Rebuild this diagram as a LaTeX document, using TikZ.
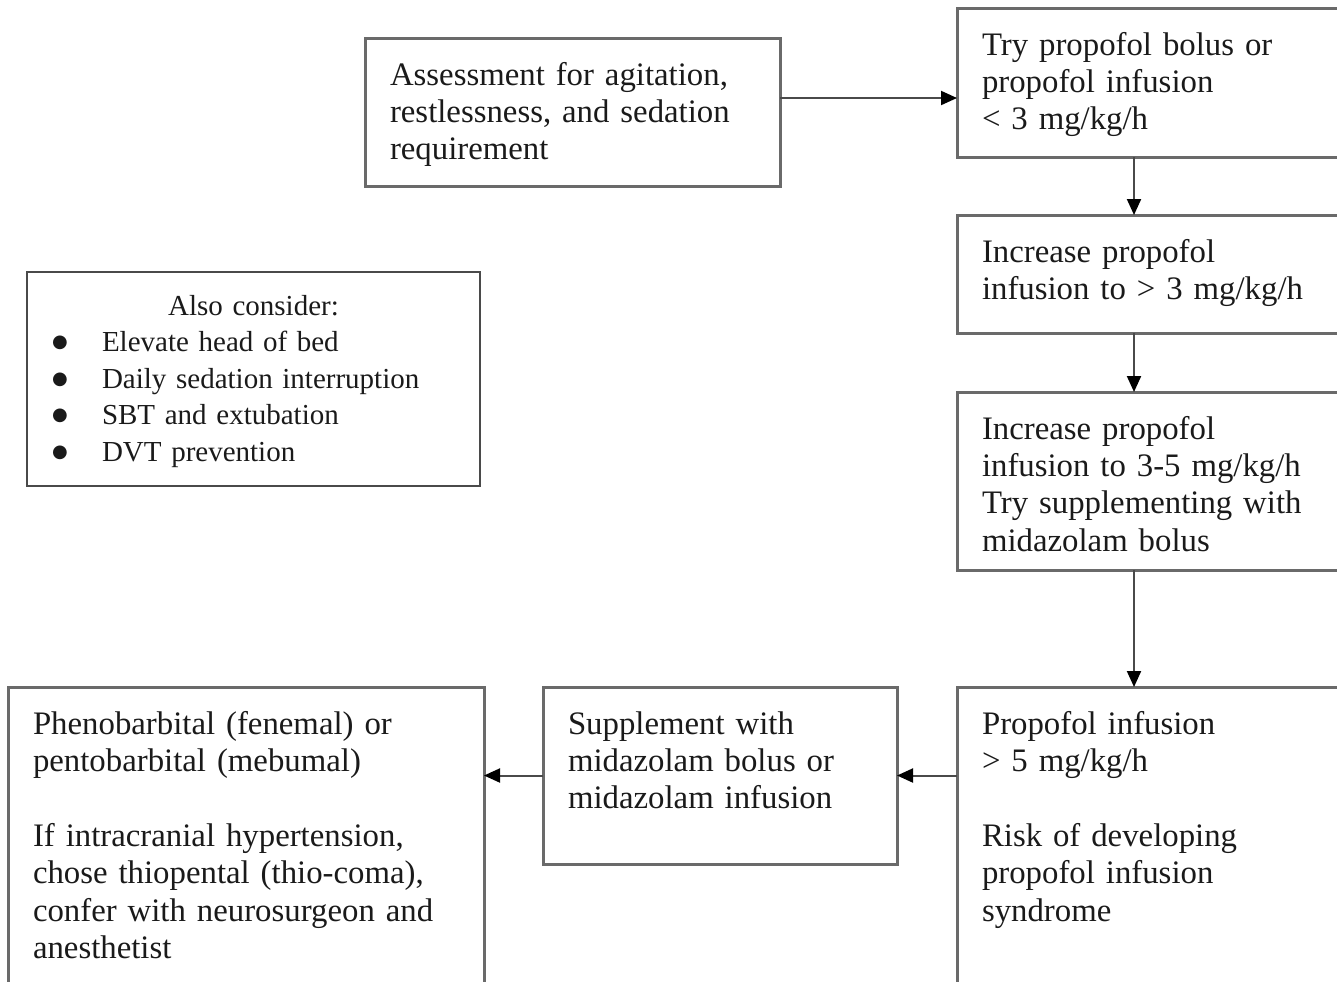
\documentclass[tikz,border=0pt]{standalone}
\usepackage{fontspec}
\setmainfont{Liberation Serif}
\newfontfamily\dotfont{DejaVu Sans}
\usetikzlibrary{arrows.meta}
\definecolor{boxgray}{HTML}{6A6A6A}
\definecolor{arrgray}{HTML}{4A4A4A}
\definecolor{txtgray}{HTML}{1A1A1A}
\newcommand\bodyfont{\fontsize{16.4}{18.7}\selectfont}
\newcommand\notefont{\fontsize{14.5}{18.25}\selectfont}
\newcommand\blt{\makebox[25pt][l]{\raisebox{2pt}{\dotfont\fontsize{9}{9}\selectfont ●}}}
\newcommand\colwidth{175pt}

\begin{document}
\begin{tikzpicture}[
    x=0.5pt, y=-0.5pt,
    arr/.style={draw=arrgray, line width=1pt,
      -{Triangle[length=8pt,width=7pt,color=black]}},
    stage/.style={draw=boxgray, line width=1.5pt, outer sep=0pt,
      anchor=north west, align=left, font=\bodyfont, text=txtgray,
      inner xsep=12.5pt, inner ysep=0pt, text height=23.5pt}
  ]
    \useasboundingbox (0,0) rectangle (1337,981);

    % main column
    \node[stage, text width=182.5pt, text depth=50.5pt] (assess) at (365,38)
      {Assessment for agitation,\\ restlessness, and sedation\\ requirement};
    \node[stage, text width=\colwidth, text depth=51pt] (try) at (957,8)
      {Try propofol bolus or\\ propofol infusion\\ < 3 mg/kg/h};
    \node[stage, text width=\colwidth, text depth=35.5pt] (inc1) at (957,215)
      {Increase propofol\\ infusion to > 3 mg/kg/h};
    \node[stage, text width=\colwidth, text depth=65.5pt] (inc2) at (957,392)
      {Increase propofol\\ infusion to 3-5 mg/kg/h\\ Try supplementing with\\ midazolam bolus};
    \node[stage, text width=\colwidth, text depth=133pt] (prop) at (957,687)
      {Propofol infusion\\ > 5 mg/kg/h\\[18.7pt] Risk of developing\\ propofol infusion\\ syndrome};

    % bottom row
    \node[stage, text width=152pt, text depth=65pt] (supp) at (543,687)
      {Supplement with\\ midazolam bolus or\\ midazolam infusion};
    \node[stage, text width=213pt, text depth=133pt] (pheno) at (8,687)
      {Phenobarbital (fenemal) or\\ pentobarbital (mebumal)\\[18.7pt]
       If intracranial hypertension,\\ chose thiopental (thio-coma),\\
       confer with neurosurgeon and\\ anesthetist};

    % side note
    \node[stage, draw=arrgray, line width=1pt, font=\notefont,
      text width=201.5pt, text height=21.5pt, text depth=85.5pt] (also) at (27,272)
      {\centering Also consider:\par
       \raggedright\blt Elevate head of bed\\ \blt Daily sedation interruption\\
       \blt SBT and extubation\\ \blt DVT prevention};

    \coordinate (spine) at (1134,0);
    \coordinate (row1) at (0,98);

    \draw[arr] (assess.east |- row1) -- (try.west |- row1);
    \draw[arr] (try.south -| spine) -- (inc1.north -| spine);
    \draw[arr] (inc1.south -| spine) -- (inc2.north -| spine);
    \draw[arr] (inc2.south -| spine) -- (prop.north -| spine);
    \draw[arr] (prop.west |- supp.east) -- (supp.east);
    \draw[arr] (supp.west) -- (pheno.east |- supp.west);
  \end{tikzpicture}
\end{document}
